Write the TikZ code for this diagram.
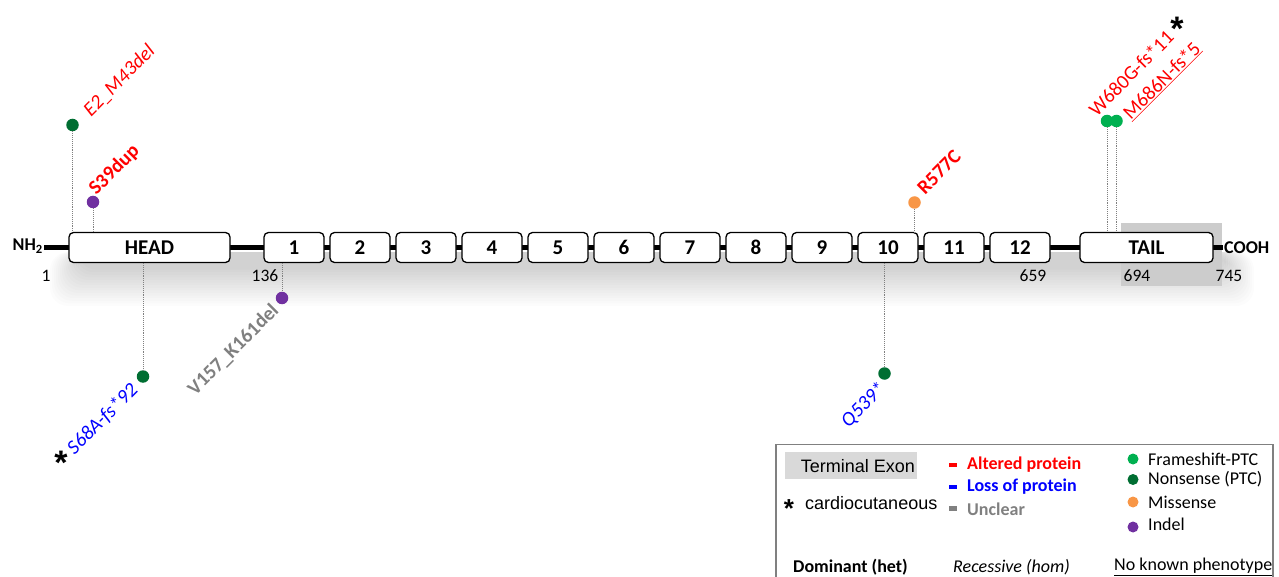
\documentclass[tikz,border=0pt]{standalone}
\usepackage{fontspec}
\setmainfont{Carlito}
\newfontfamily\arialfont{Liberation Sans}
\usetikzlibrary{backgrounds}
\definecolor{altred}{RGB}{255,0,0}
\definecolor{lossblue}{RGB}{0,0,255}
\definecolor{uncleargrey}{RGB}{128,128,128}
\definecolor{fsgreen}{RGB}{0,176,80}
\definecolor{nsgreen}{RGB}{0,110,50}
\definecolor{msorange}{RGB}{248,150,70}
\definecolor{idpurple}{RGB}{112,48,160}
\begin{document}
\begin{tikzpicture}[x=1pt,y=-1pt,
  exon/.style={draw=black, line width=1.3pt, fill=white, rounded corners=4.5pt,
    minimum height=30pt, inner sep=0pt, font=\fontsize{21}{24}\selectfont\bfseries},
  posnum/.style={inner sep=0pt, font=\fontsize{17.5}{20}\selectfont},
  endlabel/.style={inner sep=1pt, font=\fontsize{18}{20}\selectfont\bfseries},
  stem/.style={draw=gray, line width=0.9pt, densely dotted},
  lolli/.style={circle, inner sep=0pt, minimum size=12.5pt},
  mut/.style={inner sep=0pt, rotate=45, font=\fontsize{20}{24}\selectfont},
  star/.style={inner sep=0pt, font=\arialfont\bfseries\fontsize{34}{36}\selectfont},
  legtext/.style={inner sep=0pt, anchor=west, font=\fontsize{18}{20}\selectfont},
  legdot/.style={circle, inner sep=0pt, minimum size=11pt},
  legdash/.style={inner sep=0pt, minimum width=8pt, minimum height=4.5pt}]
\useasboundingbox (0,0) rectangle (1279,577);

% end labels and domains
\node[endlabel, anchor=east] (nh) at (44,246) {NH\textsubscript{2}};
\node[endlabel, anchor=west] (cooh) at (1223,247.5) {COOH};
\node[exon, minimum width=161pt] (head) at (149.5,247.5) {HEAD};
\node[exon, minimum width=133pt] (tail) at (1146.5,247.5) {TAIL};
\foreach \n in {1,...,12}
  \node[exon, minimum width=60pt] (e\n) at ({294+66*(\n-1)},247.5) {\n};

\begin{scope}[on background layer]
  % soft shadow under the protein
  \foreach \i in {0,...,14}
    \fill[black, opacity=0.010, rounded corners=18pt]
      (50+2*\i,252) rectangle (1254-2*\i,306-2.6*\i);
  % terminal exon band
  \fill[black!20] (1121,223) rectangle (1222,286);
  % backbone behind the boxes
  \draw[line width=5pt] (nh.east |- head.center) -- (cooh.west |- head.center);
\end{scope}

% residue positions
\node[posnum] (p1) at (46,276) {1};
\node[posnum] (p136) at (265,276) {136};
\node[posnum] (p659) at (1033,276) {659};
\node[posnum] (p694) at (1137,276) {694};
\node[posnum] (p745) at (1229,276) {745};

% variants above the protein
\node[lolli, fill=nsgreen] (v1) at (72.5,125) {};
\draw[stem] (v1) -- (v1 |- head.north);
\node[mut, text=altred, font=\fontsize{20}{24}\selectfont\itshape] (t1) at (119.5,81) {E2\_M43del};

\node[lolli, fill=idpurple] (v2) at (93,202) {};
\draw[stem] (v2) -- (v2 |- head.north);
\node[mut, text=altred, font=\fontsize{20}{24}\selectfont\bfseries] (t2) at (114.5,170) {S39dup};

\node[lolli, fill=msorange] (v3) at (914.5,202.5) {};
\draw[stem] (v3) -- (v3 |- e10.north);
\node[mut, text=altred, font=\fontsize{20}{24}\selectfont\bfseries] (t3) at (939,172) {R577C};

\node[lolli, fill=fsgreen] (v4) at (1107,121) {};
\node[lolli, fill=fsgreen] (v5) at (1116.5,121) {};
\draw[stem] (v4) -- (v4 |- tail.north);
\draw[stem] (v5) -- (v5 |- tail.north);
\node[mut, text=altred] (t4) at (1131,73) {W680G-fs*11};
\node[mut, text=altred] (t5) at (1162,81) {\underline{M686N-fs*5}};
\node[star] (s1) at (1177,29) {*};

% variants below the protein
\node[lolli, fill=nsgreen] (v6) at (143,376.5) {};
\draw[stem] (head.south -| v6) -- (v6);
\node[mut, text=lossblue, font=\fontsize{20}{24}\selectfont\itshape] (t6) at (102.5,419) {S68A-fs*92};
\node[star] (s2) at (61,463) {*};

\node[lolli, fill=idpurple] (v7) at (282,298) {};
\draw[stem] (e1.south -| v7) -- (v7);
\node[mut, text=uncleargrey, font=\fontsize{20}{24}\selectfont\bfseries] (t7) at (233.5,350) {V157\_K161del};

\node[lolli, fill=nsgreen] (v8) at (884.5,373.5) {};
\draw[stem] (e10.south -| v8) -- (v8);
\node[mut, text=lossblue, font=\fontsize{20}{24}\selectfont\itshape] (t8) at (863.5,405) {Q539*};

% legend
\draw[uncleargrey, line width=1.2pt] (776,577) -- (776,444.5) -- (1273,444.5) -- (1273,577);
\node[fill=black!15, minimum width=132pt, minimum height=27pt, inner sep=0pt] (lgband) at (851,465.5) {};
\node[inner sep=0pt, anchor=east, font=\arialfont\fontsize{18}{20}\selectfont] (lgte) at (915,466) {Terminal Exon};
\node[star, font=\arialfont\bfseries\fontsize{26}{28}\selectfont] (lgstar) at (789,509) {*};
\node[legtext, font=\arialfont\fontsize{18}{20}\selectfont] (lgcc) at (805,503) {cardiocutaneous};

\node[legdash, fill=altred] (lgd1) at (953,465) {};
\node[legtext, text=altred, font=\fontsize{18}{20}\selectfont\bfseries] (lga) at (967,465) {Altered protein};
\node[legdash, fill=lossblue] (lgd2) at (953,487) {};
\node[legtext, text=lossblue, font=\fontsize{18}{20}\selectfont\bfseries] (lgl) at (967,487) {Loss of protein};
\node[legdash, fill=uncleargrey] (lgd3) at (953,508.5) {};
\node[legtext, text=uncleargrey, font=\fontsize{18}{20}\selectfont\bfseries] (lgu) at (967,509) {Unclear};

\node[legdot, fill=fsgreen] (lc1) at (1133,459) {};
\node[legtext] (lf1) at (1148,459) {Frameshift-PTC};
\node[legdot, fill=nsgreen] (lc2) at (1133,479.5) {};
\node[legtext] (lf2) at (1148,479.5) {Nonsense (PTC)};
\node[legdot, fill=msorange] (lc3) at (1133,502) {};
\node[legtext] (lf3) at (1148,502) {Missense};
\node[legdot, fill=idpurple] (lc4) at (1133,527) {};
\node[legtext] (lf4) at (1148,524) {Indel};

\node[legtext, font=\fontsize{18}{20}\selectfont\bfseries] (lgdom) at (793,567) {Dominant (het)};
\node[legtext, font=\fontsize{18}{20}\selectfont\itshape] (lgrec) at (953,567) {Recessive (hom)};
\node[legtext] (lgnk) at (1114,567) {\underline{No known phenotype}};
\end{tikzpicture}
\end{document}
